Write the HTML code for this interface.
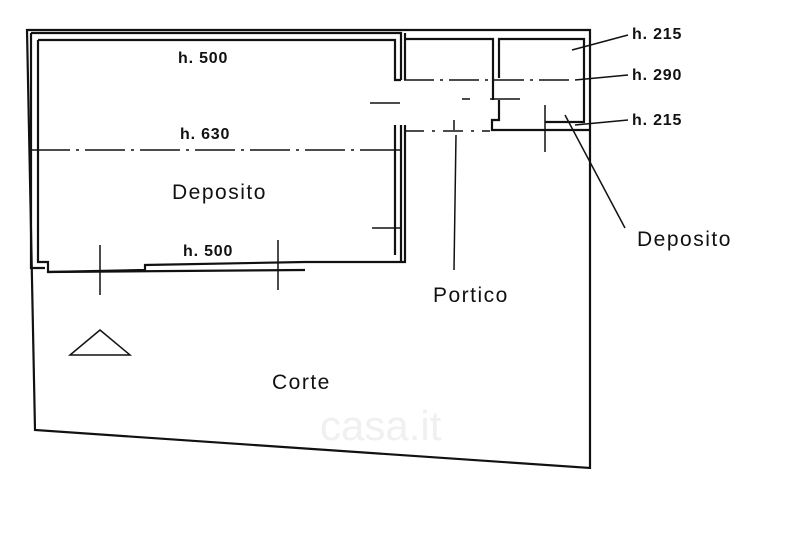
<!DOCTYPE html>
<html><head><style>
html,body{margin:0;padding:0;background:#fff;}
svg{display:block;}
text{font-family:"Liberation Sans",sans-serif;fill:#111;}
.h{font-size:16px;font-weight:bold;letter-spacing:0.8px;}
.l{font-size:21px;letter-spacing:1.5px;}
</style></head><body>
<svg width="800" height="557" viewBox="0 0 800 557" xmlns="http://www.w3.org/2000/svg">
<g stroke="#111" fill="none" stroke-width="2.2">
<path d="M27 30 L590 30 L590 468 L35 430 Z"/>
<path d="M31 33 L401 33 L401 80"/>
<path d="M38 40 L395 40 L395 80 L401 80"/>
<path d="M31 33 L31 268 L45 268"/>
<path d="M38 40 L38 262 L48 262 L48 272 L145 270 L145 265 L305 262 L405 262 L405 125"/>
<path d="M48 272 L305 270"/>
<path d="M395 125 L395 255"/>
<path d="M401 125 L401 262"/>
<path d="M405 33 L405 80"/>
<path d="M405 39 L493 39 L493 78"/>
<path d="M499 78 L499 39 L584 39 L584 122 L545 122"/>
<path d="M590 130 L492 130 L492 120 L499 120 L499 100"/>
<path d="M493 100 L493 78"/>
</g>
<g stroke="#111" stroke-width="1.5" fill="none">
<path d="M30 150 L400 150" stroke-dasharray="40 6 3 6"/>
<path d="M404 80 L575 80" stroke-dasharray="30 6 3 6"/>
<path d="M404 131 L490 131" stroke-dasharray="20 8 3 8"/>
<path d="M370 103 L400 103"/><path d="M462 99 L470 99"/>
<path d="M490 99 L520 99"/>
<path d="M372 228 L400 228"/>
<path d="M100 245 L100 295"/><path d="M278 240 L278 290"/>
<path d="M454 120 L454 130"/><path d="M456 135 L454 270"/>
<path d="M545 105 L545 152"/>
<path d="M572 50 L628 35"/>
<path d="M575 80 L628 75"/>
<path d="M575 125 L628 120"/>
<path d="M565 115 L625 228"/>
<path d="M70 355 L130 355 L100 330 Z"/>
</g>
<text class="h" x="178" y="63">h. 500</text>
<text class="h" x="180" y="139">h. 630</text>
<text class="l" x="172" y="199">Deposito</text>
<text class="h" x="183" y="256">h. 500</text>
<text class="h" x="632" y="39">h. 215</text>
<text class="h" x="632" y="80">h. 290</text>
<text class="h" x="632" y="125">h. 215</text>
<text class="l" x="637" y="246">Deposito</text>
<text class="l" x="433" y="302">Portico</text>
<text class="l" x="272" y="389">Corte</text>
<text x="320" y="440" font-size="42" style="fill:#f0f0f0">casa.it</text>
</svg>
</body></html>
